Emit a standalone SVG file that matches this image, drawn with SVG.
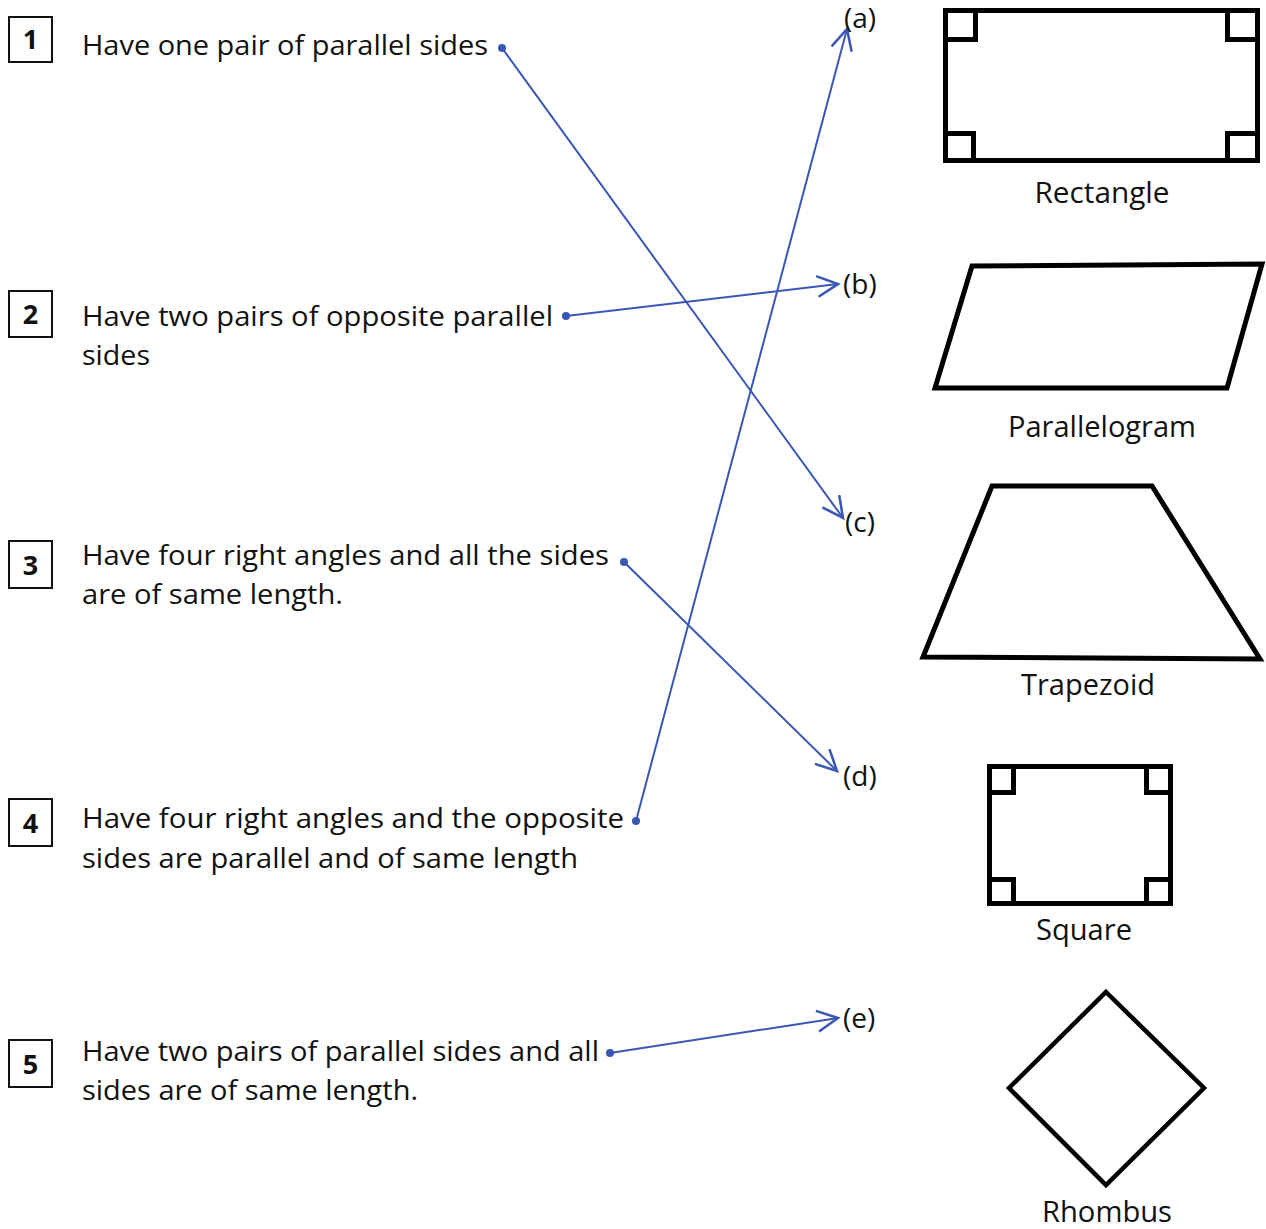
<svg xmlns="http://www.w3.org/2000/svg" width="1266" height="1229" viewBox="0 0 1266 1229">
<style>
  .t{font-family:"Open Sans","Liberation Sans",sans-serif;font-size:28px;fill:#111}
  .num{font-family:"Open Sans","Liberation Sans",sans-serif;font-size:27px;font-weight:700;fill:#111;text-anchor:middle}
  .lab{font-family:"Open Sans","Liberation Sans",sans-serif;font-size:28px;fill:#111}
  .cap{font-family:"Open Sans","Liberation Sans",sans-serif;font-size:29px;fill:#111;text-anchor:middle}
  .box{fill:none;stroke:#111;stroke-width:2}
  .shape{fill:#fff;stroke:#000;stroke-width:5;stroke-linejoin:miter}
  .corner{fill:none;stroke:#000;stroke-width:5}
  .conn{stroke:#3b57b5;stroke-width:2;fill:none;marker-end:url(#arr)}
  .dot{fill:#3b57b5}
</style>
<defs>
  <marker id="arr" markerUnits="userSpaceOnUse" markerWidth="30" markerHeight="30" viewBox="-22 -12 26 24" refX="0" refY="0" orient="auto">
    <path d="M-18,-9 L0,0 L-18,9" fill="none" stroke="#3b57b5" stroke-width="2.2"/>
  </marker>
</defs>
<rect width="1266" height="1229" fill="#fff"/>

<g id="item1">
  <rect class="box" x="9" y="17" width="43" height="45"/>
  <text class="num" x="30.5" y="49">1</text>
  <text class="t" x="82" y="55" textLength="406" lengthAdjust="spacingAndGlyphs">Have one pair of parallel sides</text>
  <circle class="dot" cx="502" cy="48" r="4"/>
</g>
<g id="item2">
  <rect class="box" x="9" y="291" width="43" height="46"/>
  <text class="num" x="30.5" y="324">2</text>
  <text class="t" x="82" y="326" textLength="471" lengthAdjust="spacingAndGlyphs">Have two pairs of opposite parallel</text>
  <text class="t" x="82" y="365" textLength="68" lengthAdjust="spacingAndGlyphs">sides</text>
  <circle class="dot" cx="566" cy="316" r="4"/>
</g>
<g id="item3">
  <rect class="box" x="9" y="541" width="43" height="47"/>
  <text class="num" x="30.5" y="575">3</text>
  <text class="t" x="82" y="565" textLength="527" lengthAdjust="spacingAndGlyphs">Have four right angles and all the sides</text>
  <text class="t" x="82" y="604" textLength="261" lengthAdjust="spacingAndGlyphs">are of same length.</text>
  <circle class="dot" cx="624" cy="562" r="4"/>
</g>
<g id="item4">
  <rect class="box" x="9" y="799" width="43" height="47"/>
  <text class="num" x="30.5" y="833">4</text>
  <text class="t" x="82" y="828" textLength="542" lengthAdjust="spacingAndGlyphs">Have four right angles and the opposite</text>
  <text class="t" x="82" y="868" textLength="496" lengthAdjust="spacingAndGlyphs">sides are parallel and of same length</text>
  <circle class="dot" cx="636" cy="821" r="4"/>
</g>
<g id="item5">
  <rect class="box" x="9" y="1040" width="43" height="47"/>
  <text class="num" x="30.5" y="1074">5</text>
  <text class="t" x="82" y="1061" textLength="517" lengthAdjust="spacingAndGlyphs">Have two pairs of parallel sides and all</text>
  <text class="t" x="82" y="1100" textLength="336" lengthAdjust="spacingAndGlyphs">sides are of same length.</text>
  <circle class="dot" cx="610" cy="1053" r="4"/>
</g>

<g id="connectors">
  <line class="conn" x1="502" y1="48" x2="843" y2="518"/>
  <line class="conn" x1="566" y1="316" x2="838" y2="284"/>
  <line class="conn" x1="624" y1="562" x2="837" y2="771"/>
  <line class="conn" x1="636" y1="821" x2="847" y2="29"/>
  <line class="conn" x1="610" y1="1053" x2="838" y2="1018"/>
</g>

<g id="labels">
  <text class="lab" x="844" y="28">(a)</text>
  <text class="lab" x="843" y="294">(b)</text>
  <text class="lab" x="845" y="532">(c)</text>
  <text class="lab" x="843" y="786">(d)</text>
  <text class="lab" x="843" y="1028">(e)</text>
</g>

<g id="rectangle">
  <rect class="shape" x="945.5" y="10.5" width="312" height="150"/>
  <path class="corner" d="M945.5,39.5 H975.5 V10.5 M1227.5,10.5 V39.5 H1257.5 M945.5,133.5 H973.5 V160.5 M1227.5,160.5 V133.5 H1257.5"/>
  <text class="cap" x="1102" y="203" textLength="135" lengthAdjust="spacingAndGlyphs">Rectangle</text>
</g>
<g id="parallelogram">
  <polygon class="shape" points="972,266 1262,264 1227,388 935,388"/>
  <text class="cap" x="1102" y="437" textLength="188" lengthAdjust="spacingAndGlyphs">Parallelogram</text>
</g>
<g id="trapezoid">
  <polygon class="shape" points="992,486 1152,486 1260,659 923,657"/>
  <text class="cap" x="1088" y="695" textLength="134" lengthAdjust="spacingAndGlyphs">Trapezoid</text>
</g>
<g id="square">
  <rect class="shape" x="989.5" y="766.5" width="181" height="137"/>
  <path class="corner" d="M989.5,792.5 H1013.5 V766.5 M1146.5,766.5 V792.5 H1170.5 M989.5,879.5 H1013.5 V903.5 M1146.5,903.5 V879.5 H1170.5"/>
  <text class="cap" x="1084" y="940" textLength="96" lengthAdjust="spacingAndGlyphs">Square</text>
</g>
<g id="rhombus">
  <polygon class="shape" style="stroke-width:4.5" points="1106,992 1204,1088 1106,1185 1009,1088"/>
  <text class="cap" x="1107" y="1222" textLength="130" lengthAdjust="spacingAndGlyphs">Rhombus</text>
</g>
</svg>
